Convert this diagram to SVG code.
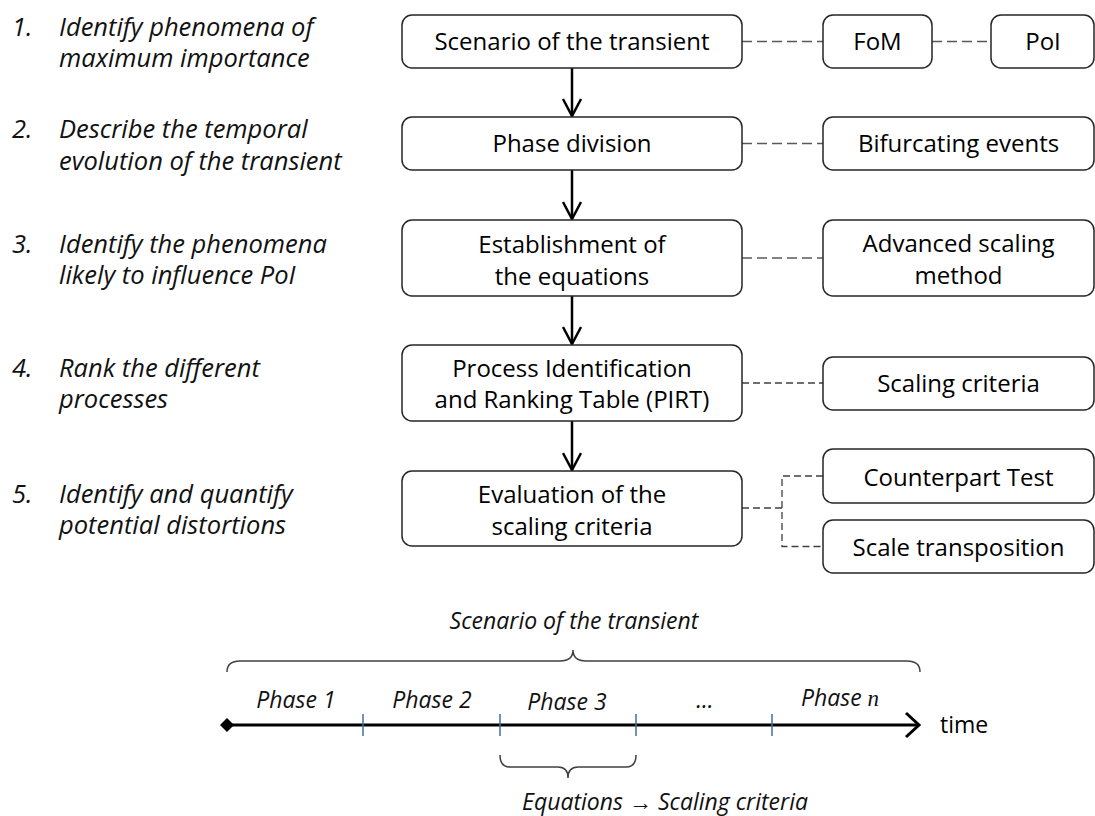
<svg xmlns="http://www.w3.org/2000/svg" width="1095" height="816" viewBox="0 0 1095 816">
<style>
.box{fill:#fff;stroke:#262626;stroke-width:1.5}
.t{font-family:"Open Sans","Noto Sans",sans-serif;font-size:24px;fill:#000;text-anchor:middle}
.li{font-family:"Open Sans","Noto Sans",sans-serif;font-size:25.5px;font-style:italic;fill:#111}
.ti{font-family:"Open Sans","Noto Sans",sans-serif;font-size:23px;font-style:italic;fill:#111;text-anchor:middle}
.dash{fill:none;stroke:#595959;stroke-width:1.6;stroke-dasharray:10 5}
.dash2{fill:none;stroke:#404040;stroke-width:1.3;stroke-dasharray:7 4}
.arr{fill:none;stroke:#000;stroke-width:2.5}
.tick{stroke:#41719C;stroke-width:1.5}
.brace{fill:none;stroke:#404040;stroke-width:1.5}
</style>
<defs>
<marker id="ah" viewBox="0 0 20 20" refX="18" refY="10" markerWidth="20" markerHeight="20" markerUnits="userSpaceOnUse" orient="auto">
<path d="M1,1 L18,10 L1,19" fill="none" stroke="#000" stroke-width="2.5"/>
</marker>
</defs>

<g id="steps">
<text class="li" x="12" y="36">1.</text><text class="li" x="59" y="36">Identify phenomena of</text>
<text class="li" x="59" y="67">maximum importance</text>
<text class="li" x="12" y="138">2.</text><text class="li" x="59" y="138">Describe the temporal</text>
<text class="li" x="59" y="170">evolution of the transient</text>
<text class="li" x="12" y="253">3.</text><text class="li" x="59" y="253">Identify the phenomena</text>
<text class="li" x="59" y="284">likely to influence PoI</text>
<text class="li" x="12" y="377">4.</text><text class="li" x="59" y="377">Rank the different</text>
<text class="li" x="59" y="408">processes</text>
<text class="li" x="12" y="503">5.</text><text class="li" x="59" y="503">Identify and quantify</text>
<text class="li" x="59" y="534">potential distortions</text>
</g>

<g id="connectors">
<line class="arr" x1="572" y1="68" x2="572" y2="116" marker-end="url(#ah)"/>
<line class="arr" x1="572" y1="170" x2="572" y2="219" marker-end="url(#ah)"/>
<line class="arr" x1="572" y1="296" x2="572" y2="344" marker-end="url(#ah)"/>
<line class="arr" x1="572" y1="421" x2="572" y2="470" marker-end="url(#ah)"/>
<line class="dash" x1="742" y1="41.5" x2="823" y2="41.5"/>
<line class="dash" x1="932" y1="41.5" x2="991" y2="41.5"/>
<line class="dash" x1="742" y1="143.5" x2="823" y2="143.5"/>
<line class="dash" x1="742" y1="258" x2="823" y2="258"/>
<line class="dash2" x1="742" y1="383" x2="823" y2="383"/>
<path class="dash2" d="M742,508 H782 M823,476 H782 V546.5 H823"/>
</g>

<g id="n-scenario"><rect class="box" x="402" y="15" width="340" height="53" rx="10"/><text class="t" x="572" y="50">Scenario of the transient</text></g>
<g id="n-fom"><rect class="box" x="823" y="15" width="109" height="53" rx="10"/><text class="t" x="877.5" y="50">FoM</text></g>
<g id="n-poi"><rect class="box" x="991" y="15" width="103" height="53" rx="10"/><text class="t" x="1043" y="50">PoI</text></g>
<g id="n-phase"><rect class="box" x="402" y="117" width="340" height="53" rx="10"/><text class="t" x="572" y="152">Phase division</text></g>
<g id="n-bifurc"><rect class="box" x="823" y="117" width="271" height="53" rx="10"/><text class="t" x="958.5" y="152">Bifurcating events</text></g>
<g id="n-equations"><rect class="box" x="402" y="220" width="340" height="76" rx="10"/><text class="t" x="572" y="253">Establishment of</text><text class="t" x="572" y="285">the equations</text></g>
<g id="n-advanced"><rect class="box" x="823" y="220" width="271" height="76" rx="10"/><text class="t" x="958.5" y="252">Advanced scaling</text><text class="t" x="958.5" y="284">method</text></g>
<g id="n-pirt"><rect class="box" x="402" y="345" width="340" height="76" rx="10"/><text class="t" x="572" y="377">Process Identification</text><text class="t" x="572" y="408">and Ranking Table (PIRT)</text></g>
<g id="n-scaling"><rect class="box" x="823" y="357" width="271" height="53" rx="10"/><text class="t" x="958.5" y="392">Scaling criteria</text></g>
<g id="n-evaluation"><rect class="box" x="402" y="471" width="340" height="75" rx="10"/><text class="t" x="572" y="503">Evaluation of the</text><text class="t" x="572" y="535">scaling criteria</text></g>
<g id="n-counterpart"><rect class="box" x="823" y="449" width="271" height="54" rx="10"/><text class="t" x="958.5" y="486">Counterpart Test</text></g>
<g id="n-transposition"><rect class="box" x="823" y="520" width="271" height="53" rx="10"/><text class="t" x="958.5" y="556">Scale transposition</text></g>

<g id="timeline">
<text class="ti" x="574" y="629">Scenario of the transient</text>
<path class="brace" d="M227,672 Q227,661 240,661 H560 Q573,661 573,650 Q573,661 586,661 H907 Q920,661 920,672"/>
<line x1="230" y1="725" x2="917" y2="725" stroke="#000" stroke-width="3"/>
<path d="M906,713 L919,725 L906,737" fill="none" stroke="#000" stroke-width="3"/>
<path d="M220,725 L227,718 L234,725 L227,732 Z" fill="#000"/>
<line class="tick" x1="363" y1="714" x2="363" y2="736"/>
<line class="tick" x1="500" y1="714" x2="500" y2="736"/>
<line class="tick" x1="636" y1="714" x2="636" y2="736"/>
<line class="tick" x1="772" y1="714" x2="772" y2="736"/>
<text class="ti" x="296" y="708">Phase 1</text>
<text class="ti" x="432" y="708">Phase 2</text>
<text class="ti" x="567" y="710">Phase 3</text>
<text class="ti" x="705" y="708">...</text>
<text class="ti" x="840" y="706">Phase <tspan font-family="'Liberation Serif',serif">n</tspan></text>
<text x="940" y="733" style="font-family:'Open Sans','Noto Sans',sans-serif;font-size:23px;fill:#000">time</text>
<path class="brace" d="M500,755 Q500,767 510,767 H558 Q568,767 568,778 Q568,767 578,767 H626 Q636,767 636,755"/>
<text class="ti" x="665" y="810">Equations → Scaling criteria</text>
</g>
</svg>
